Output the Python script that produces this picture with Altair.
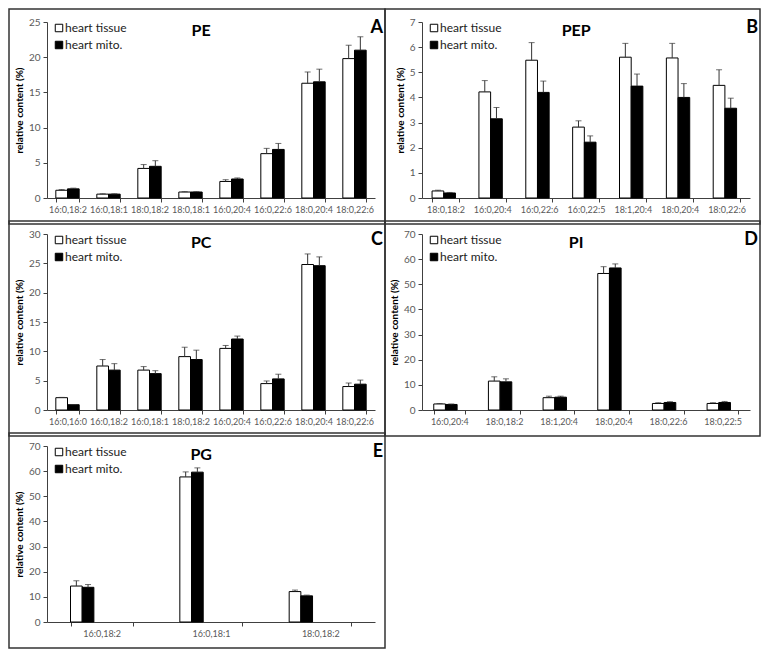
import altair as alt
import pandas as pd

series = ["heart tissue", "heart mito."]
y_title = "relative content (%)"

# Panel A - PE
pe_cats = ["16:0,18:2", "16:0,18:1", "18:0,18:2", "18:0,18:1", "16:0,20:4", "16:0,22:6", "18:0,20:4", "18:0,22:6"]
pe_tissue = [1.1, 0.55, 4.2, 0.85, 2.35, 6.3, 16.3, 19.8]
pe_tissue_err = [0.1, 0.05, 0.55, 0.05, 0.25, 0.75, 1.6, 1.9]
pe_mito = [1.3, 0.55, 4.5, 0.85, 2.7, 6.9, 16.5, 21.0]
pe_mito_err = [0.1, 0.05, 0.8, 0.05, 0.15, 0.85, 1.8, 1.9]

# Panel B - PEP
pep_cats = ["18:0,18:2", "16:0,20:4", "16:0,22:6", "16:0,22:5", "18:1,20:4", "18:0,20:4", "18:0,22:6"]
pep_tissue = [0.28, 4.22, 5.48, 2.82, 5.6, 5.57, 4.48]
pep_tissue_err = [0.03, 0.45, 0.7, 0.25, 0.55, 0.58, 0.62]
pep_mito = [0.2, 3.15, 4.2, 2.22, 4.45, 4.0, 3.57]
pep_mito_err = [0.02, 0.45, 0.45, 0.25, 0.48, 0.55, 0.4]

# Panel C - PC
pc_cats = ["16:0,16:0", "16:0,18:2", "16:0,18:1", "18:0,18:2", "16:0,20:4", "16:0,22:6", "18:0,20:4", "18:0,22:6"]
pc_tissue = [2.1, 7.5, 6.8, 9.1, 10.5, 4.5, 24.8, 4.0]
pc_tissue_err = [0.05, 1.1, 0.6, 1.6, 0.5, 0.45, 1.8, 0.6]
pc_mito = [0.9, 6.8, 6.2, 8.6, 12.1, 5.3, 24.6, 4.4]
pc_mito_err = [0.02, 1.1, 0.5, 1.6, 0.5, 0.8, 1.5, 0.7]

# Panel D - PI
pi_cats = ["16:0,20:4", "18:0,18:2", "18:1,20:4", "18:0,20:4", "18:0,22:6", "18:0,22:5"]
pi_tissue = [2.4, 11.5, 4.9, 54.3, 2.6, 2.6]
pi_tissue_err = [0.2, 1.7, 0.6, 2.7, 0.3, 0.3]
pi_mito = [2.2, 11.2, 5.1, 56.5, 3.0, 3.0]
pi_mito_err = [0.2, 1.2, 0.4, 1.6, 0.3, 0.4]

# Panel E - PG
pg_cats = ["16:0,18:2", "16:0,18:1", "18:0,18:2"]
pg_tissue = [14.3, 57.7, 12.1]
pg_tissue_err = [2.1, 2.0, 0.6]
pg_mito = [13.8, 59.6, 10.4]
pg_mito_err = [1.1, 1.7, 0.3]

W, H = 328, 176
AXIS_COL = "#404040"
LABEL_COL = "#595959"
BORDER_COL = "#333333"


def panel(name, letter, cats, t, te, m, me, ymax, ystep, left_col):
    rows = []
    for c, v, e in zip(cats, t, te):
        rows.append({"cat": c, "series": series[0], "value": v, "upper": v + e})
    for c, v, e in zip(cats, m, me):
        rows.append({"cat": c, "series": series[1], "value": v, "upper": v + e})
    df = pd.DataFrame(rows)

    x = alt.X(
        "cat:N", sort=cats, title=None,
        scale=alt.Scale(paddingInner=0.43, paddingOuter=0.215),
        axis=alt.Axis(labelAngle=0, tickBand="extent", labelFontSize=9, labelColor=LABEL_COL,
                      domainColor=AXIS_COL, tickColor=AXIS_COL, tickSize=4, labelPadding=3),
    )
    xo = alt.XOffset("series:N", sort=series, scale=alt.Scale(paddingInner=0, paddingOuter=0))
    yscale = alt.Scale(domain=[0, ymax], nice=False)
    yaxis = alt.Axis(values=list(range(0, ymax + 1, ystep)), title=y_title, grid=False,
                     labelFontSize=10, labelColor=LABEL_COL, domainColor=AXIS_COL,
                     tickColor=AXIS_COL, tickSize=4, labelPadding=3, labelOverlap=False,
                     titleFontSize=10, titleFontWeight="bold", titleColor="black", titlePadding=4)
    y = alt.Y("value:Q", scale=yscale, axis=yaxis, title=y_title)
    base = alt.Chart(df)
    bars = base.mark_bar(stroke="black", strokeWidth=1).encode(
        x=x, xOffset=xo, y=y,
        fill=alt.Fill("series:N", scale=alt.Scale(domain=series, range=["white", "black"]), legend=None),
    )
    err = base.mark_rule(color="#333333", strokeWidth=1).encode(x=x, xOffset=xo, y=y, y2="upper:Q")
    cap = base.mark_tick(color="#333333", thickness=1, size=6).encode(
        x=x, xOffset=xo, y=alt.Y("upper:Q", scale=yscale, axis=yaxis, title=y_title))

    one = pd.DataFrame({"panel": [name]})
    leg1 = pd.DataFrame({"label": [series[0]]})
    leg2 = pd.DataFrame({"label": [series[1]]})
    sq1 = alt.Chart(leg1).mark_square(size=56, fill="white", stroke="black", strokeWidth=1, opacity=1).encode(
        x=alt.value(12), y=alt.value(6))
    sq2 = alt.Chart(leg2).mark_square(size=56, fill="black", stroke="black", strokeWidth=1, opacity=1).encode(
        x=alt.value(12), y=alt.value(23))
    tx1 = alt.Chart(leg1).mark_text(align="left", baseline="middle", fontSize=12, color="#222222").encode(
        x=alt.value(18), y=alt.value(6), text="label:N")
    tx2 = alt.Chart(leg2).mark_text(align="left", baseline="middle", fontSize=12, color="#222222").encode(
        x=alt.value(18), y=alt.value(23), text="label:N")
    ttl = alt.Chart(one).mark_text(fontSize=16, fontWeight="bold", baseline="middle", color="black").encode(
        x=alt.value(W * 0.47), y=alt.value(9), text="panel:N")
    let = alt.Chart(pd.DataFrame({"letter": [letter]})).mark_text(
        fontSize=18, fontWeight="bold", align="right", baseline="middle", color="black").encode(
        x=alt.value(W + 8), y=alt.value(6), text="letter:N")
    border = alt.Chart(one).mark_rect(fillOpacity=0, stroke=BORDER_COL, strokeWidth=1.5).encode(
        x=alt.value(-38 if left_col else -37), x2=alt.value(W + 10),
        y=alt.value(-13), y2=alt.value(H + 26))
    return alt.layer(border, bars, err, cap, sq1, sq2, tx1, tx2, ttl, let).properties(width=W, height=H)


pA = panel("PE", "A", pe_cats, pe_tissue, pe_tissue_err, pe_mito, pe_mito_err, 25, 5, True)
pB = panel("PEP", "B", pep_cats, pep_tissue, pep_tissue_err, pep_mito, pep_mito_err, 7, 1, False)
pC = panel("PC", "C", pc_cats, pc_tissue, pc_tissue_err, pc_mito, pc_mito_err, 30, 5, True)
pD = panel("PI", "D", pi_cats, pi_tissue, pi_tissue_err, pi_mito, pi_mito_err, 70, 10, False)
pE = panel("PG", "E", pg_cats, pg_tissue, pg_tissue_err, pg_mito, pg_mito_err, 70, 10, True)

chart = alt.concat(pA, pB, pC, pD, pE, columns=2, spacing={"row": 36, "column": 47}, bounds="flush").properties(
    padding=0
).configure(font="Lato").configure_view(stroke=None)

chart.save("out.html", embed_options={"renderer": "svg", "actions": False})
